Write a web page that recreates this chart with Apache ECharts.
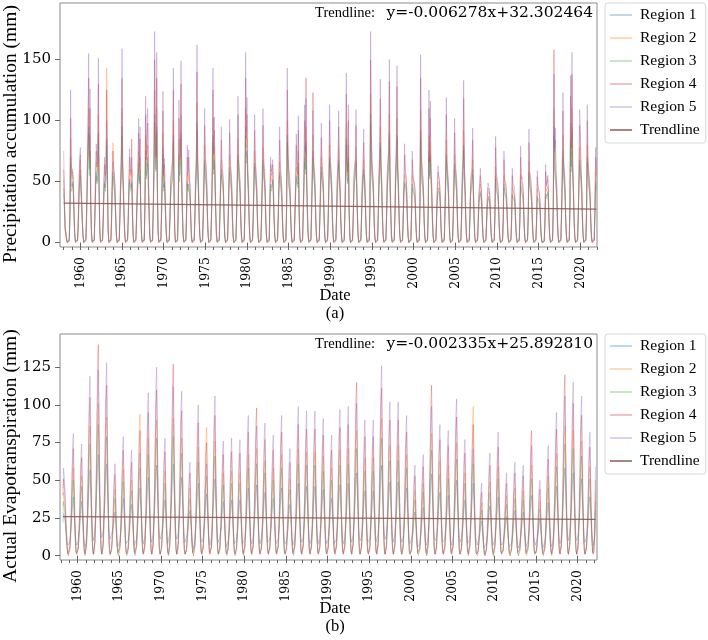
<!DOCTYPE html>
<html><head><meta charset="utf-8">
<script src="https://cdn.jsdelivr.net/npm/echarts@6/dist/echarts.min.js"></script>
<style>html,body{margin:0;padding:0;background:#fff}#c{width:708px;height:640px}</style>
</head><body><div id="c"></div>
<script>
const regionNames = ['Region 1','Region 2','Region 3','Region 4','Region 5'];
const regionColors = ['rgba(31,119,180,0.36)','rgba(255,127,14,0.36)','rgba(44,160,44,0.32)','rgba(214,39,40,0.36)','rgba(148,103,189,0.38)'];
const trendColor = 'rgba(140,86,75,0.9)';
const precipStart = {year: 1958, month: 1};
const etStart = {year: 1958, month: 4};
const precipTrend = {slope: -0.006278, intercept: 32.302464, label: 'y=-0.006278x+32.302464'};
const etTrend = {slope: -0.002335, intercept: 25.892810, label: 'y=-0.002335x+25.892810'};
const majorYears = [1960,1965,1970,1975,1980,1985,1990,1995,2000,2005,2010,2015,2020];
const minorYears = [1958,1959,1960,1961,1962,1963,1964,1965,1966,1967,1968,1969,1970,1971,1972,1973,1974,1975,1976,1977,1978,1979,1980,1981,1982,1983,1984,1985,1986,1987,1988,1989,1990,1991,1992,1993,1994,1995,1996,1997,1998,1999,2000,2001,2002,2003,2004,2005,2006,2007,2008,2009,2010,2011,2012,2013,2014,2015,2016,2017,2018,2019,2020,2021,2022];
const precipYTicks = [0,50,100,150];
const etYTicks = [0,25,50,75,100,125];

// Precipitation, monthly Jan..Dec, one line per year 1958..2021
const precipR1 = [
45,30,12,8,4,0,0,0,2,18,70,48,
46,50,40,20,6,1,0,0,2,14,35,52,
60,42,30,15,4,0,0,0,3,20,45,70,
95,60,75,30,8,1,0,0,2,20,45,58,
50,55,90,40,10,1,0,0,2,18,40,50,
45,52,85,48,10,1,0,0,2,18,45,58,
50,45,35,18,5,0,0,0,2,20,42,55,
95,55,40,20,6,1,0,0,2,18,40,52,
48,45,50,22,6,0,0,0,2,18,38,50,
65,50,60,25,7,1,0,0,2,25,75,55,
55,70,45,22,6,1,0,0,2,25,55,105,
70,60,95,35,8,1,0,0,2,22,50,78,
45,50,35,16,5,0,0,0,2,18,38,48,
50,55,88,35,8,1,0,0,2,25,72,55,
60,90,45,22,6,1,0,0,2,22,50,45,
48,42,38,18,5,0,0,0,2,20,42,55,
98,55,42,20,6,1,0,0,2,20,45,68,
55,50,42,20,6,0,0,0,2,22,50,88,
60,68,45,22,6,1,0,0,2,20,42,60,
50,48,40,18,5,0,0,0,2,20,42,62,
52,48,40,18,5,0,0,0,2,20,45,72,
55,50,40,18,5,0,0,0,2,25,95,70,
75,50,40,18,5,0,0,0,2,20,45,65,
55,48,40,18,5,0,0,0,2,20,45,68,
55,50,40,18,5,0,0,0,2,30,48,45,
48,52,38,18,5,0,0,0,2,20,42,58,
50,45,38,18,5,0,0,0,2,25,88,60,
48,45,38,18,5,0,0,0,2,20,40,55,
50,48,65,25,6,0,0,0,2,22,45,70,
60,82,45,22,6,1,0,0,2,22,48,75,
55,50,40,18,5,0,0,0,2,20,42,62,
52,48,40,18,5,0,0,0,2,20,45,70,
55,50,40,18,5,0,0,0,2,20,42,52,
68,50,40,18,5,0,0,0,2,22,48,85,
55,50,70,25,6,0,0,0,2,20,42,52,
55,68,42,20,5,0,0,0,2,20,40,50,
60,48,38,18,5,0,0,0,2,25,105,70,
55,48,40,18,5,0,0,0,2,20,45,58,
82,55,42,20,6,1,0,0,2,20,45,55,
60,90,45,22,6,1,0,0,2,20,48,60,
88,55,42,20,6,1,0,0,2,20,40,50,
48,45,36,16,5,0,0,0,2,22,48,45,
42,40,35,16,5,0,0,0,2,25,92,60,
50,46,38,18,5,0,0,0,2,25,75,55,
72,50,38,18,5,0,0,0,2,18,35,42,
45,42,35,16,5,0,0,0,2,20,45,72,
55,48,40,18,5,0,0,0,2,20,45,64,
52,48,40,18,5,0,0,0,2,20,45,55,
80,52,40,18,5,0,0,0,2,18,40,45,
50,60,38,18,5,0,0,0,2,16,32,38,
42,38,30,14,4,0,0,0,2,15,30,35,
38,35,28,12,4,0,0,0,2,20,55,45,
42,40,32,14,4,0,0,0,2,18,48,42,
40,38,30,14,4,0,0,0,2,16,40,38,
38,36,28,12,4,0,0,0,2,18,50,42,
42,40,32,14,4,0,0,0,2,20,58,48,
44,40,32,14,4,0,0,0,2,16,38,36,
36,34,26,10,3,0,0,0,1,14,40,38,
40,42,34,14,4,0,0,0,2,25,95,60,
60,48,38,16,5,0,0,0,2,22,48,75,
55,48,38,16,5,0,0,0,2,25,85,62,
95,55,40,18,5,0,0,0,2,20,45,68,
60,50,40,18,5,0,0,0,2,25,70,55,
48,44,36,16,5,0,0,0,2,22,50,45
];
const precipR2 = [
52,35,10,9,3,1,0,0,1,22,85,55,
52,55,45,22,5,0,0,0,1,16,40,60,
68,45,32,14,3,0,0,0,2,24,52,82,
110,65,88,28,6,0,0,0,3,24,50,66,
58,60,105,45,8,0,0,0,1,20,45,58,
58,66,143,65,13,1,0,0,2,24,58,82,
56,50,40,20,4,0,0,0,1,22,48,62,
110,60,45,22,5,0,0,0,1,20,45,60,
55,50,60,25,5,0,0,0,1,20,42,56,
75,55,70,28,6,0,0,0,3,30,88,62,
62,80,50,25,5,0,0,0,1,28,62,125,
78,65,110,40,7,0,0,0,3,25,56,90,
50,56,38,18,4,0,0,0,1,20,42,54,
56,60,100,40,7,0,0,0,3,28,85,62,
66,105,50,25,5,0,0,0,1,25,58,50,
55,48,42,20,4,0,0,0,1,22,48,62,
115,62,48,22,5,0,0,0,1,22,50,80,
62,56,46,22,5,0,0,0,1,25,56,102,
66,78,50,25,5,0,0,0,1,22,48,68,
56,52,44,20,4,0,0,0,1,22,48,72,
58,54,44,20,4,0,0,0,1,22,50,85,
60,55,44,20,4,0,0,0,1,28,110,78,
85,56,44,20,4,0,0,0,1,22,50,75,
60,52,44,20,4,0,0,0,1,22,50,78,
62,55,44,20,4,0,0,0,1,35,55,50,
54,58,42,20,4,0,0,0,1,22,48,66,
55,50,42,20,4,0,0,0,1,28,100,68,
54,50,42,20,4,0,0,0,1,22,45,62,
56,52,75,28,5,0,0,0,1,25,50,80,
66,95,50,25,5,0,0,0,1,25,55,88,
60,55,44,20,4,0,0,0,1,22,48,70,
58,52,44,20,4,0,0,0,1,22,50,80,
60,55,44,20,4,0,0,0,1,22,48,58,
78,55,44,20,4,0,0,0,1,25,55,98,
60,55,80,28,5,0,0,0,1,22,48,58,
60,78,46,22,4,0,0,0,1,22,45,55,
68,52,42,20,4,0,0,0,1,28,122,78,
60,52,44,20,4,0,0,0,1,22,50,65,
95,60,46,22,5,0,0,0,1,22,50,62,
66,105,50,25,5,0,0,0,1,22,55,68,
102,60,46,22,5,0,0,0,1,22,45,56,
52,50,40,18,4,0,0,0,1,25,55,50,
46,44,38,18,4,0,0,0,1,28,108,68,
56,50,42,20,4,0,0,0,1,28,88,62,
82,55,42,20,4,0,0,0,1,20,40,48,
50,46,38,18,4,0,0,0,1,22,50,84,
60,52,44,20,4,0,0,0,1,22,50,72,
58,52,44,20,4,0,0,0,1,22,50,62,
92,58,44,20,4,0,0,0,1,20,45,50,
55,68,42,20,4,0,0,0,1,18,36,42,
48,42,34,16,3,0,0,0,1,16,34,40,
42,40,32,14,3,0,0,0,1,22,62,50,
46,44,35,16,3,0,0,0,1,20,55,46,
44,42,34,16,3,0,0,0,1,18,46,42,
42,40,32,14,3,0,0,0,1,20,56,46,
46,44,35,16,3,0,0,0,1,22,66,52,
48,44,35,16,3,0,0,0,1,18,44,40,
40,38,30,12,2,0,0,0,1,16,46,42,
44,46,38,16,3,0,0,0,1,28,110,68,
68,52,42,18,4,0,0,0,1,25,55,88,
60,52,42,18,4,0,0,0,1,28,98,70,
110,60,44,20,4,0,0,0,1,22,50,78,
68,55,44,20,4,0,0,0,1,28,80,62,
52,48,40,18,4,0,0,0,1,25,58,50
];
const precipR3 = [
40,28,14,10,5,0,0,0,3,15,64,42,
44,48,38,18,7,1,0,0,3,12,32,48,
55,40,28,16,5,1,0,0,3,18,40,65,
90,55,70,32,9,1,0,0,2,18,42,55,
48,52,85,38,12,1,0,0,3,16,38,48,
42,50,80,45,12,1,0,0,2,16,42,55,
48,42,32,16,6,1,0,0,3,18,40,52,
88,52,38,18,7,1,0,0,3,16,38,50,
45,42,48,20,7,1,0,0,3,16,35,48,
60,48,55,22,8,1,0,0,2,22,70,52,
52,65,42,20,7,1,0,0,3,22,50,98,
65,58,90,32,9,1,0,0,2,20,48,72,
42,48,32,15,6,1,0,0,3,16,35,45,
48,52,82,32,9,1,0,0,2,22,68,50,
58,85,42,20,7,1,0,0,3,20,48,42,
45,40,35,16,6,1,0,0,3,18,40,52,
92,52,40,18,7,1,0,0,3,18,42,64,
52,48,40,18,7,1,0,0,3,20,48,82,
56,65,42,20,7,1,0,0,3,18,40,56,
48,45,38,16,6,1,0,0,3,18,40,58,
50,45,38,16,6,1,0,0,3,18,42,68,
52,48,38,16,6,1,0,0,3,22,88,65,
70,48,38,16,6,1,0,0,3,18,42,62,
52,45,38,16,6,1,0,0,3,18,42,64,
52,48,38,16,6,1,0,0,3,28,45,42,
45,50,35,16,6,1,0,0,3,18,40,55,
48,42,35,16,6,1,0,0,3,22,82,55,
45,42,35,16,6,1,0,0,3,18,38,52,
48,45,60,22,7,1,0,0,3,20,42,66,
56,78,42,20,7,1,0,0,3,20,45,70,
52,48,38,16,6,1,0,0,3,18,40,58,
50,45,38,16,6,1,0,0,3,18,42,66,
52,48,38,16,6,1,0,0,3,18,40,50,
65,48,38,16,6,1,0,0,3,20,45,80,
52,48,66,22,7,1,0,0,3,18,40,50,
52,65,40,18,6,1,0,0,3,18,38,48,
56,45,35,16,6,1,0,0,3,22,98,65,
52,45,38,16,6,1,0,0,3,18,42,55,
78,52,40,18,7,1,0,0,3,18,42,52,
56,85,42,20,7,1,0,0,3,18,45,56,
84,52,40,18,7,1,0,0,3,18,38,48,
45,42,34,15,6,1,0,0,3,20,45,42,
40,38,32,15,6,1,0,0,3,22,85,55,
48,44,36,16,6,1,0,0,3,22,70,52,
68,48,36,16,6,1,0,0,3,16,32,40,
42,40,32,15,6,1,0,0,3,18,42,68,
52,45,38,16,6,1,0,0,3,18,42,60,
50,45,38,16,6,1,0,0,3,18,42,52,
76,50,38,16,6,1,0,0,3,16,38,42,
48,56,36,16,6,1,0,0,3,14,30,36,
40,36,28,12,5,1,0,0,3,14,28,34,
36,34,26,11,5,1,0,0,3,18,52,42,
40,38,30,12,5,1,0,0,3,16,45,40,
38,36,28,12,5,1,0,0,3,14,38,36,
36,34,26,11,5,1,0,0,3,16,46,40,
40,38,30,12,5,1,0,0,3,18,55,45,
42,38,30,12,5,1,0,0,3,14,36,34,
34,32,24,9,4,0,0,0,2,12,38,36,
38,40,32,12,5,1,0,0,3,22,88,55,
56,45,36,15,6,1,0,0,3,20,45,70,
52,45,36,15,6,1,0,0,3,22,80,58,
90,52,38,16,6,1,0,0,3,18,42,64,
56,48,38,16,6,1,0,0,3,22,66,52,
45,42,34,15,6,1,0,0,3,20,46,42
];
const precipR4 = [
60,38,11,7,2,0,0,0,2,25,102,60,
55,58,48,24,6,0,0,0,2,18,44,66,
72,48,35,13,4,0,0,0,2,26,58,90,
135,70,110,35,7,0,0,0,1,26,55,75,
62,66,130,50,9,0,0,0,2,22,50,64,
55,62,125,60,10,0,0,0,1,22,55,75,
60,55,44,22,5,0,0,0,2,24,52,70,
135,65,48,24,6,0,0,0,2,22,50,70,
60,55,85,28,6,0,0,0,2,22,46,60,
90,60,85,30,7,0,0,0,1,32,105,68,
68,98,55,28,6,0,0,0,2,30,66,150,
85,70,135,45,8,0,0,0,1,28,60,108,
55,64,42,20,5,0,0,0,2,22,46,58,
60,66,125,45,8,0,0,0,1,30,102,68,
72,130,55,28,6,0,0,0,2,28,70,55,
70,52,45,22,5,0,0,0,2,24,52,68,
140,68,52,24,6,0,0,0,2,25,55,96,
68,62,50,24,6,0,0,0,2,28,62,125,
72,92,55,28,6,0,0,0,2,25,52,84,
60,56,48,22,5,0,0,0,2,24,52,90,
62,58,48,22,5,0,0,0,2,24,55,105,
64,58,48,22,5,0,0,0,2,30,135,85,
105,60,48,22,5,0,0,0,2,24,55,92,
64,56,48,22,5,0,0,0,2,24,55,96,
66,58,48,22,5,0,0,0,2,40,64,55,
58,64,45,22,5,0,0,0,2,24,52,84,
60,54,45,22,5,0,0,0,2,30,125,75,
58,55,45,22,5,0,0,0,2,24,48,80,
60,56,92,30,6,0,0,0,2,28,55,100,
74,135,58,30,8,1,0,0,2,30,64,123,
64,58,48,22,5,0,0,0,2,24,52,86,
62,56,48,22,5,0,0,0,2,24,55,100,
64,58,48,22,5,0,0,0,2,24,52,62,
95,58,48,22,5,0,0,0,2,28,60,122,
64,58,100,30,6,0,0,0,2,24,52,62,
64,96,50,24,5,0,0,0,2,24,50,58,
82,56,45,22,5,0,0,0,2,30,150,85,
64,56,48,22,5,0,0,0,2,24,55,70,
118,65,50,24,6,0,0,0,2,24,55,66,
70,132,55,28,6,0,0,0,2,25,60,74,
128,65,50,24,6,0,0,0,2,24,50,72,
56,54,42,20,5,0,0,0,2,28,68,54,
50,48,42,20,5,0,0,0,2,30,135,72,
60,54,46,22,5,0,0,0,2,30,110,66,
102,58,46,22,5,0,0,0,2,22,44,58,
54,50,42,20,5,0,0,0,2,24,55,105,
64,56,48,22,5,0,0,0,2,24,55,90,
62,56,48,22,5,0,0,0,2,24,55,66,
118,62,48,22,5,0,0,0,2,22,48,54,
58,84,46,22,5,0,0,0,2,20,40,46,
55,46,36,18,4,0,0,0,2,18,36,45,
45,42,34,16,4,0,0,0,2,25,78,54,
50,48,38,18,4,0,0,0,2,22,68,50,
48,45,36,18,4,0,0,0,2,20,55,45,
46,44,34,16,4,0,0,0,2,22,70,50,
50,48,38,18,4,0,0,0,2,25,82,56,
52,48,38,18,4,0,0,0,2,20,54,44,
42,40,32,14,3,0,0,0,1,18,58,46,
50,55,44,20,6,1,0,0,2,32,158,78,
84,56,46,20,5,0,0,0,2,28,60,108,
64,56,46,20,5,0,0,0,2,30,120,78,
138,65,48,22,5,0,0,0,2,24,55,96,
85,58,48,22,5,0,0,0,2,30,100,66,
56,52,42,20,5,0,0,0,2,28,70,55
];
const precipR5 = [
75,42,13,10,4,1,0,0,1,28,125,66,
58,60,50,25,8,1,0,0,2,20,48,70,
78,50,36,17,6,1,0,0,1,28,62,98,
155,75,126,38,10,1,0,0,2,28,58,81,
65,70,151,55,11,1,0,0,2,24,52,70,
50,58,100,55,9,0,0,0,3,20,50,66,
65,58,46,24,7,1,0,0,2,26,56,75,
159,68,50,26,8,1,0,0,2,24,52,77,
62,58,70,30,8,1,0,0,2,24,48,62,
102,62,95,32,9,1,0,0,2,35,120,72,
72,110,58,30,8,1,0,0,2,32,70,173,
90,72,156,48,10,1,0,0,2,30,62,124,
58,69,44,22,7,1,0,0,2,24,48,62,
64,70,143,48,10,1,0,0,2,32,117,72,
75,149,58,30,8,1,0,0,2,30,80,58,
76,55,48,24,7,1,0,0,2,26,55,72,
162,72,55,26,8,1,0,0,2,28,58,110,
72,65,52,26,8,1,0,0,2,30,66,143,
75,103,58,30,8,1,0,0,2,28,55,95,
64,60,50,24,7,1,0,0,2,26,55,101,
66,60,50,24,7,1,0,0,2,26,58,120,
68,62,50,24,7,1,0,0,2,32,156,90,
119,64,50,24,7,1,0,0,2,26,58,105,
68,60,50,24,7,1,0,0,2,26,58,110,
70,62,50,24,7,1,0,0,2,42,70,58,
62,68,48,24,7,1,0,0,2,26,55,95,
64,56,48,24,7,1,0,0,2,32,143,80,
62,58,48,24,7,1,0,0,2,26,50,89,
64,60,104,32,8,1,0,0,2,30,58,113,
70,118,55,28,6,0,0,0,2,28,60,108,
68,62,50,24,7,1,0,0,2,26,55,98,
66,60,50,24,7,1,0,0,2,26,58,113,
68,62,50,24,7,1,0,0,2,26,55,66,
108,62,50,24,7,1,0,0,2,30,64,139,
68,62,113,32,8,1,0,0,2,26,55,66,
68,109,52,26,7,1,0,0,2,26,52,62,
93,60,48,24,7,1,0,0,2,32,173,90,
68,60,50,24,7,1,0,0,2,26,58,74,
134,68,52,26,8,1,0,0,2,26,58,70,
74,150,58,30,8,1,0,0,2,28,64,78,
145,68,52,26,8,1,0,0,2,26,52,81,
60,56,44,22,7,1,0,0,2,30,75,56,
52,49,44,22,7,1,0,0,2,32,154,76,
64,58,48,24,7,1,0,0,2,32,125,70,
116,62,48,24,7,1,0,0,2,24,46,63,
56,52,44,22,7,1,0,0,2,26,58,119,
68,60,50,24,7,1,0,0,2,26,58,102,
66,60,50,24,7,1,0,0,2,26,58,70,
133,66,50,24,7,1,0,0,2,24,50,58,
60,94,48,24,7,1,0,0,2,22,42,48,
61,48,38,20,6,1,0,0,2,20,38,49,
48,44,36,18,6,1,0,0,2,26,87,56,
54,50,40,20,6,1,0,0,2,24,75,52,
50,48,38,20,6,1,0,0,2,22,61,48,
48,46,36,18,6,1,0,0,2,24,79,52,
54,50,40,20,6,1,0,0,2,26,93,58,
56,50,40,20,6,1,0,0,2,22,59,46,
45,42,34,15,5,1,0,0,1,20,64,48,
48,52,42,18,4,0,0,0,2,30,138,74,
94,60,48,22,7,1,0,0,2,30,64,123,
68,60,48,22,7,1,0,0,2,32,137,82,
156,68,50,24,7,1,0,0,2,26,58,109,
96,62,50,24,7,1,0,0,2,32,113,70,
60,55,44,22,7,1,0,0,2,30,78,58
];

// Actual evapotranspiration, monthly Apr..Mar, one line per season starting Apr 1958
const etR1 = [
22,28,27,24,19,14,10,7,6,6,9,14,
20,27,35,39,29,21,14,9,7,7,10,15,
18,25,32,36,27,20,13,8,6,8,13,20,
28,40,51,57,43,31,20,13,10,11,16,24,
34,47,60,67,50,37,23,15,12,12,17,25,
31,43,55,61,46,34,21,13,11,10,12,16,
15,20,26,29,22,16,10,6,5,6,9,14,
19,27,34,38,29,21,13,8,7,7,10,14,
17,24,31,34,26,19,12,7,6,7,11,17,
23,32,41,45,34,25,16,10,8,9,13,20,
26,36,47,52,39,29,18,11,9,10,15,22,
30,42,54,60,45,33,21,13,11,10,12,16,
19,26,33,37,28,20,13,8,7,9,15,22,
31,43,55,61,46,34,21,13,11,11,15,21,
26,36,47,52,39,29,18,11,9,8,10,14,
15,21,27,30,23,17,11,7,5,7,11,17,
24,34,43,48,36,26,17,11,9,9,12,17,
21,29,37,41,31,23,14,9,7,8,13,19,
26,36,46,51,38,28,18,11,9,9,12,16,
18,25,32,36,27,20,13,8,6,7,10,14,
19,26,33,37,28,20,13,8,7,7,10,15,
19,26,33,37,28,20,13,8,7,8,11,16,
23,32,41,45,34,25,16,10,8,9,13,19,
24,33,42,47,35,26,16,10,8,9,12,17,
21,29,38,42,32,23,15,9,8,8,11,16,
19,27,34,38,29,21,13,8,7,8,11,16,
23,32,41,45,34,25,16,10,8,8,10,15,
17,24,31,34,26,19,12,7,6,8,11,17,
24,34,43,48,36,26,17,11,9,9,12,18,
23,32,41,46,35,25,16,10,8,9,12,18,
23,32,41,46,35,25,16,10,8,9,12,17,
22,31,40,44,33,24,15,10,8,8,11,16,
19,27,34,38,29,21,13,8,7,8,11,17,
24,33,42,47,35,26,16,10,8,9,12,18,
24,34,43,48,36,26,17,11,9,10,14,20,
28,39,50,55,41,30,19,12,10,10,12,17,
22,30,39,43,32,24,15,9,8,8,11,16,
22,30,39,43,32,24,15,9,8,10,15,22,
30,42,54,60,45,33,21,13,11,10,14,20,
25,34,44,49,37,27,17,11,9,10,14,20,
25,34,44,49,37,27,17,11,9,9,12,17,
23,32,41,45,34,25,16,10,8,7,9,13,
15,20,26,29,22,16,10,6,5,6,8,12,
16,22,29,32,24,18,11,7,6,9,14,20,
27,38,49,54,41,30,19,12,10,9,12,17,
21,29,38,42,32,23,15,9,8,8,11,16,
20,28,36,40,30,22,14,9,7,9,12,18,
25,35,45,50,38,28,18,11,9,9,12,16,
19,26,33,37,28,20,13,8,7,8,11,17,
24,34,43,48,36,26,17,11,9,7,9,12,
12,16,21,23,17,13,8,5,4,6,9,12,
17,23,30,33,25,18,12,7,6,7,10,15,
20,27,35,39,29,21,14,9,7,7,9,12,
13,18,23,26,20,14,9,6,5,6,8,11,
15,21,27,30,23,17,11,7,5,6,8,12,
15,20,26,29,22,16,10,6,5,7,10,14,
20,28,36,40,30,22,14,9,7,6,8,11,
12,17,22,24,18,13,8,5,4,6,9,12,
18,25,32,35,26,19,12,8,6,8,11,16,
23,32,41,46,35,25,16,10,8,10,14,20,
29,41,52,58,44,32,20,13,10,11,15,21,
28,39,50,55,41,30,19,12,10,10,14,20,
26,36,46,51,38,28,18,11,9,9,12,16,
20,27,35,39,29,21,14,9,7,9,16,30
];
const etR2 = [
33,42,38,32,22,12,5,1,0,1,5,13,
23,38,52,58,38,22,9,2,1,1,4,12,
21,34,48,53,34,20,8,2,1,2,7,19,
34,56,77,86,56,33,13,3,1,2,8,22,
40,66,91,101,66,38,15,4,1,2,7,20,
37,60,83,92,60,35,14,4,1,1,4,10,
18,29,40,44,29,17,7,2,0,1,5,13,
23,37,51,57,37,22,9,2,1,1,4,11,
20,33,45,50,33,19,8,2,1,1,5,15,
38,61,85,94,61,36,14,4,1,2,9,24,
31,51,70,78,51,30,12,3,1,2,7,20,
36,59,81,90,59,34,14,4,1,1,4,12,
22,36,50,56,36,21,8,2,1,2,7,20,
36,59,82,91,59,35,14,4,1,2,6,17,
31,51,70,78,51,30,12,3,1,1,4,10,
18,29,41,45,29,17,7,2,0,1,6,16,
29,47,65,72,47,27,11,3,1,1,5,13,
34,55,77,85,55,32,13,3,1,2,8,23,
30,49,68,76,49,29,11,3,1,1,4,12,
22,36,50,55,36,21,8,2,1,1,4,12,
22,36,50,56,36,21,8,2,1,1,4,12,
22,36,50,55,36,21,8,2,1,1,5,15,
27,44,60,67,44,25,10,3,1,1,6,16,
28,46,64,71,46,27,11,3,1,1,5,14,
25,41,57,63,41,24,9,3,1,1,5,13,
23,38,52,58,38,22,9,2,1,1,5,15,
27,44,60,67,44,25,10,3,1,1,4,11,
20,33,46,51,33,19,8,2,1,1,6,16,
28,46,64,71,46,27,11,3,1,1,6,15,
28,45,62,69,45,26,10,3,1,1,6,15,
28,45,62,69,45,26,10,3,1,1,5,14,
26,43,59,66,43,25,10,3,1,1,5,13,
23,38,52,58,38,22,9,2,1,1,6,15,
28,46,63,70,46,27,11,3,1,1,6,16,
28,46,64,71,46,27,11,3,1,2,7,18,
33,54,75,83,54,32,12,3,1,1,5,14,
26,42,59,65,42,25,10,3,1,1,5,14,
26,42,59,65,42,25,10,3,1,2,7,20,
36,59,82,91,59,35,14,4,1,1,6,16,
29,47,66,73,47,28,11,3,1,1,6,16,
29,47,66,73,47,28,11,3,1,1,5,15,
27,44,60,67,44,25,10,3,1,1,3,10,
17,28,39,43,28,16,6,2,0,1,4,11,
19,31,43,48,31,18,7,2,0,2,7,18,
32,53,73,81,53,31,12,3,1,1,5,14,
25,41,57,63,41,24,9,3,1,1,5,13,
24,39,54,60,39,23,9,2,1,1,6,16,
30,49,68,75,49,29,11,3,1,1,4,12,
22,36,50,55,36,21,8,2,1,1,6,16,
40,64,89,99,64,38,15,4,1,1,4,11,
14,23,31,35,23,13,5,1,0,1,4,11,
20,32,44,49,32,19,7,2,0,1,5,13,
24,38,53,59,38,22,9,2,1,1,3,9,
16,26,36,40,26,15,6,2,0,1,4,10,
18,29,41,45,29,17,7,2,0,1,3,10,
17,28,39,43,28,16,6,2,0,1,5,13,
24,39,54,60,39,23,9,2,1,1,3,8,
14,23,32,36,23,14,5,1,0,1,4,12,
21,34,48,53,34,20,8,2,1,1,6,15,
27,44,61,68,44,26,10,3,1,2,7,19,
34,56,77,86,56,33,13,3,1,2,7,18,
33,54,75,83,54,32,12,3,1,2,6,17,
30,49,68,76,49,29,11,3,1,1,5,13,
24,38,53,59,38,22,9,2,1,2,14,42
];
const etR3 = [
28,36,32,27,18,10,4,1,0,1,4,11,
20,33,45,50,33,19,8,2,1,1,4,10,
18,30,41,46,30,17,7,2,0,1,6,16,
30,48,67,74,48,28,11,3,1,2,7,19,
35,57,78,87,57,33,13,3,1,2,6,17,
32,51,71,79,51,30,12,3,1,1,3,8,
15,25,34,38,25,14,6,2,0,1,4,11,
20,32,44,49,32,19,7,2,0,1,3,10,
17,28,39,43,28,16,6,2,0,1,5,13,
23,38,52,58,38,22,9,2,1,1,5,15,
27,44,60,67,44,25,10,3,1,2,6,17,
31,51,70,78,51,30,12,3,1,1,4,11,
19,31,43,48,31,18,7,2,0,2,6,17,
32,51,71,79,51,30,12,3,1,1,5,15,
27,44,61,68,44,26,10,3,1,1,3,9,
15,25,34,38,25,14,6,2,0,1,5,14,
25,40,56,62,40,24,9,2,1,1,4,12,
21,34,48,53,34,20,8,2,1,1,5,14,
26,43,59,66,43,25,10,3,1,1,4,10,
19,31,42,47,31,18,7,2,0,1,4,11,
19,31,43,48,31,18,7,2,0,1,4,11,
19,31,43,48,31,18,7,2,0,1,5,13,
23,38,52,58,38,22,9,2,1,1,5,13,
24,40,55,61,40,23,9,2,1,1,4,12,
22,36,50,55,36,21,8,2,1,1,4,11,
20,33,45,50,33,19,8,2,1,1,5,13,
23,38,52,58,38,22,9,2,1,1,4,10,
18,29,40,44,29,17,7,2,0,1,5,14,
24,40,55,61,40,23,9,2,1,1,5,13,
24,39,54,60,39,23,9,2,1,1,5,13,
24,39,54,60,39,23,9,2,1,1,5,12,
22,36,50,56,36,21,8,2,1,1,4,11,
20,33,45,50,33,19,8,2,1,1,5,13,
24,39,54,60,39,23,9,2,1,1,5,14,
24,40,55,61,40,23,9,2,1,1,6,16,
28,46,64,71,46,27,11,3,1,1,4,12,
22,36,50,56,36,21,8,2,1,1,4,12,
22,36,50,56,36,21,8,2,1,2,6,17,
31,51,70,78,51,30,12,3,1,1,5,14,
25,41,57,63,41,24,9,3,1,1,5,14,
25,41,57,63,41,24,9,3,1,1,5,13,
23,38,52,58,38,22,9,2,1,1,3,8,
15,24,33,37,24,14,6,1,0,1,3,9,
17,27,38,42,27,16,6,2,0,1,6,15,
28,46,63,70,46,27,11,3,1,1,4,12,
22,35,49,54,35,21,8,2,1,1,4,11,
20,33,46,51,33,19,8,2,1,1,5,14,
26,42,58,64,42,24,10,3,1,1,4,11,
19,31,43,48,31,18,7,2,0,1,5,14,
24,40,55,61,40,23,9,2,1,0,2,7,
12,20,27,30,20,11,5,1,0,1,3,9,
17,27,38,42,27,16,6,2,0,1,4,11,
20,33,46,51,33,19,8,2,1,1,3,8,
14,22,31,34,22,13,5,1,0,1,3,8,
15,25,34,38,25,14,6,2,0,1,3,8,
15,24,33,37,24,14,6,1,0,1,4,11,
20,33,46,51,33,19,8,2,1,1,2,7,
12,20,28,31,20,12,5,1,0,1,4,10,
18,29,41,45,29,17,7,2,0,1,5,13,
24,38,53,59,38,22,9,2,1,1,6,16,
30,48,67,74,48,28,11,3,1,1,6,16,
28,46,64,71,46,27,11,3,1,1,5,15,
26,43,59,66,43,25,10,3,1,1,4,11,
20,33,46,51,33,19,8,2,1,2,12,36
];
const etR4 = [
40,51,46,38,26,15,6,2,0,1,6,16,
28,46,64,71,46,27,11,3,1,1,5,14,
26,42,59,65,42,25,10,3,1,2,8,23,
42,68,94,105,68,40,16,4,1,2,10,27,
56,91,126,140,91,53,21,6,1,3,10,28,
45,73,102,113,73,43,17,5,1,1,4,12,
22,35,49,54,35,21,8,2,1,1,6,15,
28,46,63,70,46,27,11,3,1,1,5,14,
25,40,56,62,40,24,9,2,1,2,7,18,
33,54,75,83,54,32,12,3,1,2,8,21,
38,62,86,95,62,36,14,4,1,2,9,24,
44,72,99,110,72,42,17,4,1,1,5,15,
28,45,62,69,45,26,10,3,1,2,9,25,
51,83,114,127,83,48,19,5,1,2,9,24,
38,62,86,96,62,36,14,4,1,1,4,12,
22,36,50,55,36,21,8,2,1,2,7,19,
35,57,79,88,57,33,13,4,1,1,6,16,
30,49,68,75,49,29,11,3,1,2,7,21,
37,60,84,93,60,35,14,4,1,1,5,15,
27,44,60,67,44,25,10,3,1,1,5,15,
28,45,62,69,45,26,10,3,1,1,5,15,
27,44,61,68,44,26,10,3,1,2,7,18,
33,53,74,82,53,31,12,3,1,2,7,19,
39,64,88,98,64,37,15,4,1,2,7,19,
31,50,69,77,50,29,12,3,1,1,6,15,
28,46,63,70,46,27,11,3,1,2,7,18,
33,53,74,82,53,31,12,3,1,1,5,14,
25,40,56,62,40,24,9,2,1,2,7,19,
35,57,78,87,57,33,13,3,1,2,7,19,
34,55,76,84,55,32,13,3,1,2,7,19,
34,55,76,84,55,32,13,3,1,2,6,18,
32,52,72,80,52,30,12,3,1,1,6,15,
28,46,63,70,46,27,11,3,1,2,7,19,
34,55,77,85,55,32,13,3,1,2,7,19,
35,57,78,87,57,33,13,3,1,2,8,22,
46,75,104,115,75,44,17,5,1,2,7,20,
32,51,71,79,51,30,12,3,1,2,6,17,
32,51,71,79,51,30,12,3,1,2,9,24,
44,72,100,111,72,42,17,4,1,2,7,20,
36,59,81,90,59,34,14,4,1,2,7,20,
36,59,81,90,59,34,14,4,1,2,7,18,
33,53,74,82,53,31,12,3,1,1,4,12,
21,34,48,53,34,20,8,2,1,1,5,13,
24,38,53,59,38,22,9,2,1,2,8,22,
45,73,102,113,73,43,17,5,1,2,7,19,
31,50,69,77,50,29,12,3,1,1,6,16,
29,47,66,73,47,28,11,3,1,2,7,20,
37,60,83,92,60,35,14,4,1,1,5,15,
27,44,61,68,44,26,10,3,1,2,7,19,
35,57,78,87,57,33,13,3,1,1,3,9,
17,27,38,42,27,16,6,2,0,1,5,13,
24,39,54,60,39,23,9,2,1,1,6,16,
29,47,65,72,47,27,11,3,1,1,4,11,
19,31,43,48,31,18,7,2,0,1,4,12,
22,36,50,55,36,21,8,2,1,1,4,12,
21,34,48,53,34,20,8,2,1,1,6,16,
33,54,75,83,54,32,12,3,1,1,4,11,
18,29,40,44,29,17,7,2,0,1,5,14,
26,42,58,64,42,24,10,3,1,2,7,18,
34,55,76,84,55,32,13,3,1,2,8,23,
48,78,108,120,78,46,18,5,1,2,9,25,
40,66,91,101,66,38,15,4,1,2,7,21,
37,60,84,93,60,35,14,4,1,1,6,16,
29,47,65,72,47,27,11,3,1,3,17,50
];
const etR5 = [
45,58,52,44,30,17,7,2,1,2,6,18,
32,53,73,81,53,31,12,3,1,1,6,16,
30,48,67,74,48,28,11,3,1,2,10,26,
48,77,107,119,77,45,18,5,1,3,11,31,
49,80,111,123,80,47,18,5,1,2,9,25,
51,83,115,128,83,49,19,5,1,1,5,13,
24,40,55,61,40,23,9,2,1,2,6,17,
32,51,71,79,51,30,12,3,1,1,6,15,
28,46,63,70,46,27,11,3,1,2,8,21,
27,44,61,68,44,26,10,3,1,2,6,17,
43,70,97,108,70,41,16,4,1,3,10,28,
50,81,113,125,81,48,19,5,1,2,6,17,
31,51,70,78,51,30,12,3,1,3,10,28,
45,73,101,112,73,43,17,4,1,2,8,21,
44,71,98,109,71,41,16,4,1,1,5,14,
25,40,56,62,40,24,9,2,1,2,8,22,
40,65,90,100,65,38,15,4,1,2,7,19,
24,40,55,61,40,23,9,2,1,2,6,17,
42,69,95,106,69,40,16,4,1,2,6,17,
30,49,68,76,49,29,11,3,1,2,6,17,
31,51,70,78,51,30,12,3,1,2,6,17,
31,50,69,77,50,29,12,3,1,2,7,20,
37,60,84,93,60,35,14,4,1,2,8,22,
34,56,77,86,56,33,13,3,1,2,6,17,
35,57,79,88,57,33,13,4,1,2,6,18,
32,52,72,80,52,30,12,3,1,2,7,20,
37,60,84,93,60,35,14,4,1,1,6,16,
28,46,64,71,46,27,11,3,1,2,8,22,
40,64,89,99,64,38,15,4,1,2,8,21,
38,62,86,96,62,36,14,4,1,2,8,21,
38,62,86,96,62,36,14,4,1,2,7,20,
36,59,82,91,59,35,14,4,1,2,6,18,
32,52,72,80,52,30,12,3,1,2,8,21,
39,63,87,97,63,37,15,4,1,2,8,22,
40,64,89,99,64,38,15,4,1,2,9,25,
40,66,91,101,66,38,15,4,1,2,6,17,
36,59,81,90,59,34,14,4,1,2,7,20,
36,59,81,90,59,34,14,4,1,3,10,28,
50,82,113,126,82,48,19,5,1,2,8,22,
41,66,92,102,66,39,15,4,1,2,8,22,
41,66,92,102,66,39,15,4,1,2,7,20,
37,60,84,93,60,35,14,4,1,1,5,13,
24,39,54,60,39,23,9,2,1,1,5,15,
27,44,60,67,44,25,10,3,1,2,9,25,
40,64,89,99,64,38,15,4,1,2,6,17,
35,57,78,87,57,33,13,3,1,2,7,18,
33,54,75,83,54,32,12,3,1,2,8,23,
42,68,94,104,68,40,16,4,1,2,6,17,
31,50,69,77,50,29,12,3,1,2,8,22,
28,46,64,71,46,27,11,3,1,1,3,8,
19,31,43,48,31,18,7,2,0,1,5,15,
27,44,61,68,44,26,10,3,1,2,7,18,
33,53,74,82,53,31,12,3,1,1,4,12,
22,36,50,55,36,21,8,2,1,1,5,14,
25,40,56,62,40,24,9,2,1,1,5,13,
24,39,54,60,39,23,9,2,1,2,7,18,
29,47,66,73,47,28,11,3,1,1,4,10,
20,33,45,50,33,19,8,2,1,1,6,16,
29,47,66,73,47,28,11,3,1,2,8,21,
38,62,86,95,62,36,14,4,1,2,10,26,
42,69,95,106,69,40,16,4,1,2,8,22,
46,75,104,115,75,44,17,5,1,2,8,23,
42,69,95,106,69,40,16,4,1,2,7,18,
33,53,74,82,53,31,12,3,1,4,20,59
];

const precipSeries = [precipR1, precipR2, precipR3, precipR4, precipR5];
const etSeries = [etR1, etR2, etR3, etR4, etR5];

function monthX(start, i) { return start.year + (start.month - 1 + i) / 12; }
function toPoints(arr, start) { return arr.map((v, i) => [monthX(start, i), v]); }
function trendPoints(arr, start, tr) {
  const n = arr.length - 1;
  return [[monthX(start, 0), tr.intercept], [monthX(start, n), tr.intercept + tr.slope * n]];
}

const serifFont = '"Liberation Serif", "Times New Roman", serif';
const tickFont = '"DejaVu Serif", serif';
const frameColor = '#8a8a8a';
const tickColor = '#666';

const grids = [
  {left: 60, top: 3, width: 537, height: 244},
  {left: 60, top: 334, width: 537, height: 226}
];
const xRanges = [[1957.56, 2022.0], [1957.9, 2022.35]];
const yRanges = [[-3.6, 196.4], [-2.85, 147.0]];
const yTicks = [precipYTicks, etYTicks];

const xAxes = [], yAxes = [];
grids.forEach((g, gi) => {
  xAxes.push({
    type: 'value', gridIndex: gi, position: 'bottom', min: xRanges[gi][0], max: xRanges[gi][1],
    axisLine: {show: false}, splitLine: {show: false},
    axisTick: {show: true, customValues: majorYears, length: 5, lineStyle: {color: tickColor, width: 1}},
    axisLabel: {show: true, customValues: majorYears, rotate: 90, margin: 10, color: '#000',
      fontFamily: tickFont, fontSize: 12.5, formatter: v => String(Math.round(v))}
  });
  xAxes.push({
    type: 'value', gridIndex: gi, position: 'bottom', min: xRanges[gi][0], max: xRanges[gi][1],
    axisLine: {show: false}, splitLine: {show: false},
    axisTick: {show: true, customValues: minorYears, length: 3, lineStyle: {color: tickColor, width: 1}},
    axisLabel: {show: false}
  });
  yAxes.push({
    type: 'value', gridIndex: gi, min: yRanges[gi][0], max: yRanges[gi][1],
    axisLine: {show: false}, splitLine: {show: false},
    axisTick: {show: true, customValues: yTicks[gi], length: 5, lineStyle: {color: tickColor, width: 1}},
    axisLabel: {show: true, customValues: yTicks[gi], margin: 9, color: '#000', fontFamily: tickFont, fontSize: 15}
  });
});

const series = [];
[[precipSeries, precipStart, precipTrend], [etSeries, etStart, etTrend]].forEach(([set, start, tr], gi) => {
  set.forEach((arr, k) => {
    series.push({
      name: regionNames[k], type: 'line', xAxisIndex: gi * 2, yAxisIndex: gi,
      data: toPoints(arr, start), symbol: 'none', showSymbol: false, silent: true,
      lineStyle: {color: regionColors[k], width: 0.9},
      itemStyle: {color: regionColors[k]}, z: 2 + k
    });
  });
  series.push({
    name: 'Trendline', type: 'line', xAxisIndex: gi * 2, yAxisIndex: gi,
    data: trendPoints(set[0], start, tr), symbol: 'none', silent: true,
    lineStyle: {color: trendColor, width: 1.3},
    itemStyle: {color: trendColor}, z: 10
  });
});

const legendNames = regionNames.concat(['Trendline']);
const legends = [3, 334].map(top => ({
  data: legendNames, orient: 'vertical', left: 605, top: top, width: 99,
  padding: [3, 6, 4, 5], itemGap: 5, itemWidth: 22, itemHeight: 1.6, icon: 'rect',
  backgroundColor: '#fff', borderColor: '#d8d8d8', borderWidth: 1, borderRadius: 3,
  textStyle: {fontFamily: serifFont, fontSize: 15.5, color: '#000', padding: [0, 0, 0, 3], lineHeight: 18},
  selectedMode: false
}));

function txt(x, y, text, font, align, rot) {
  return {type: 'text', x: x, y: y, rotation: rot || 0, silent: true, z: 100,
    style: {text: text, font: font, fill: '#000', textAlign: align || 'center', textVerticalAlign: 'middle'}};
}

const graphics = [
  txt(11, 134, 'Precipitation accumulation (mm)', '19.5px ' + serifFont, 'center', Math.PI / 2),
  txt(11, 456, 'Actual Evapotranspiration (mm)', '19.5px ' + serifFont, 'center', Math.PI / 2),
  txt(335, 296, 'Date', '16.5px ' + serifFont),
  txt(335, 314, '(a)', '16.5px ' + serifFont),
  txt(335, 609, 'Date', '16.5px ' + serifFont),
  txt(335, 627, '(b)', '16.5px ' + serifFont),
  txt(375, 13, 'Trendline:', '14.5px ' + serifFont, 'right'),
  txt(593, 13, precipTrend.label, '15.5px ' + tickFont, 'right'),
  txt(375, 344, 'Trendline:', '14.5px ' + serifFont, 'right'),
  txt(593, 344, etTrend.label, '15.5px ' + tickFont, 'right')
];

const chart = echarts.init(document.getElementById('c'), null, {renderer: 'canvas'});
chart.setOption({
  animation: false,
  backgroundColor: '#fff',
  grid: grids.map(g => Object.assign({show: true, borderColor: frameColor, borderWidth: 1, backgroundColor: 'transparent', containLabel: false}, g)),
  xAxis: xAxes, yAxis: yAxes, series: series, legend: legends, graphic: graphics
});
</script></body></html>
